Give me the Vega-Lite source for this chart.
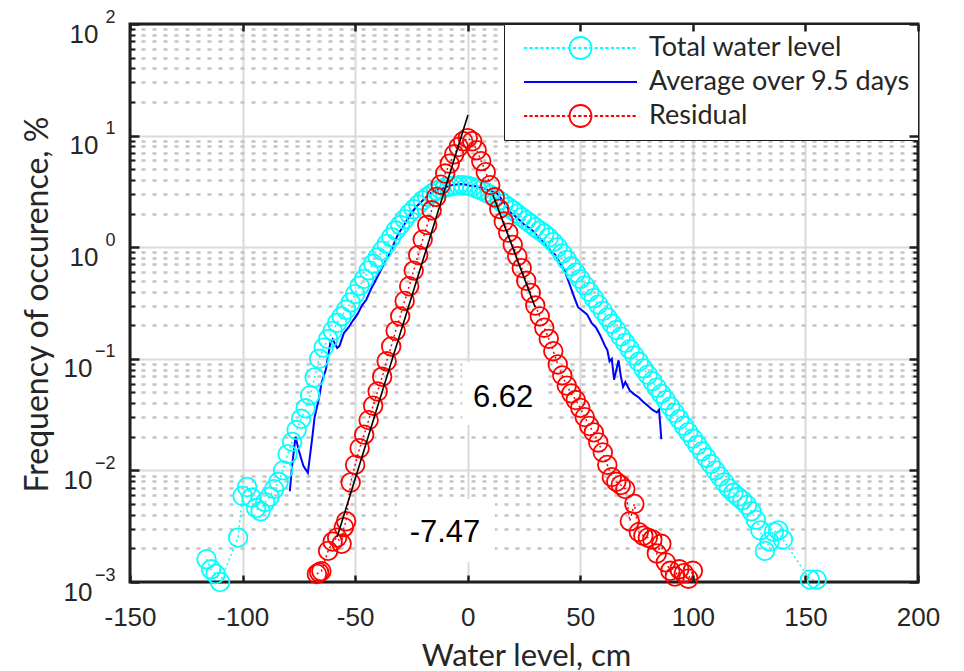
{
  "$schema": "https://vega.github.io/schema/vega-lite/v6.json",
  "width": 788,
  "height": 558,
  "autosize": {"type": "none"},
  "padding": {"left": 130, "top": 24, "right": 46, "bottom": 89},
  "background": "white",
  "config": {
    "view": {"stroke": null, "fill": "white"},
    "axis": {"domain": false, "labelColor": "#262626", "titleColor": "#262626", "tickColor": "#1e1e1e", "labelFlush": false, "labelOverlap": false, "labelBound": false}
  },
  "datasets": {
    "curves": [
      {"s":"Total water level","x":-116,"y":0.0016},{"s":"Total water level","x":-114,"y":0.0013},{"s":"Total water level","x":-112,"y":0.00118},{"s":"Total water level","x":-110,"y":0.001},
      {"s":"Total water level","x":-102,"y":0.0025},{"s":"Total water level","x":-100,"y":0.0059},{"s":"Total water level","x":-98,"y":0.0071},{"s":"Total water level","x":-96,"y":0.0057},
      {"s":"Total water level","x":-94,"y":0.0046},{"s":"Total water level","x":-92,"y":0.0043},{"s":"Total water level","x":-90,"y":0.0052},{"s":"Total water level","x":-88,"y":0.0058},
      {"s":"Total water level","x":-86,"y":0.0068},{"s":"Total water level","x":-84,"y":0.0079},{"s":"Total water level","x":-82,"y":0.01},{"s":"Total water level","x":-80,"y":0.014},
      {"s":"Total water level","x":-78,"y":0.018},{"s":"Total water level","x":-76,"y":0.023},{"s":"Total water level","x":-74,"y":0.029},{"s":"Total water level","x":-72,"y":0.036},
      {"s":"Total water level","x":-70,"y":0.047},{"s":"Total water level","x":-68,"y":0.068},{"s":"Total water level","x":-66,"y":0.1},{"s":"Total water level","x":-64,"y":0.126},
      {"s":"Total water level","x":-62,"y":0.15},{"s":"Total water level","x":-60,"y":0.178},{"s":"Total water level","x":-58,"y":0.21},{"s":"Total water level","x":-56,"y":0.24},
      {"s":"Total water level","x":-54,"y":0.275},{"s":"Total water level","x":-52,"y":0.32},{"s":"Total water level","x":-50,"y":0.38},{"s":"Total water level","x":-48,"y":0.45},
      {"s":"Total water level","x":-46,"y":0.52},{"s":"Total water level","x":-44,"y":0.62},{"s":"Total water level","x":-42,"y":0.71},{"s":"Total water level","x":-40,"y":0.81},
      {"s":"Total water level","x":-38,"y":0.93},{"s":"Total water level","x":-36,"y":1.07},{"s":"Total water level","x":-34,"y":1.23},{"s":"Total water level","x":-32,"y":1.41},
      {"s":"Total water level","x":-30,"y":1.58},{"s":"Total water level","x":-28,"y":1.78},{"s":"Total water level","x":-26,"y":2.0},{"s":"Total water level","x":-24,"y":2.19},
      {"s":"Total water level","x":-22,"y":2.4},{"s":"Total water level","x":-20,"y":2.63},{"s":"Total water level","x":-18,"y":2.82},{"s":"Total water level","x":-16,"y":3.02},
      {"s":"Total water level","x":-14,"y":3.2},{"s":"Total water level","x":-12,"y":3.31},{"s":"Total water level","x":-10,"y":3.43},{"s":"Total water level","x":-8,"y":3.5},
      {"s":"Total water level","x":-6,"y":3.55},{"s":"Total water level","x":-4,"y":3.59},{"s":"Total water level","x":-2,"y":3.59},{"s":"Total water level","x":0,"y":3.55},
      {"s":"Total water level","x":2,"y":3.47},{"s":"Total water level","x":4,"y":3.35},{"s":"Total water level","x":6,"y":3.24},{"s":"Total water level","x":8,"y":3.09},
      {"s":"Total water level","x":10,"y":2.95},{"s":"Total water level","x":12,"y":2.79},{"s":"Total water level","x":14,"y":2.63},{"s":"Total water level","x":16,"y":2.45},
      {"s":"Total water level","x":18,"y":2.29},{"s":"Total water level","x":20,"y":2.14},{"s":"Total water level","x":22,"y":2.0},{"s":"Total water level","x":24,"y":1.86},
      {"s":"Total water level","x":26,"y":1.74},{"s":"Total water level","x":28,"y":1.62},{"s":"Total water level","x":30,"y":1.51},{"s":"Total water level","x":32,"y":1.41},
      {"s":"Total water level","x":34,"y":1.32},{"s":"Total water level","x":36,"y":1.22},{"s":"Total water level","x":38,"y":1.11},{"s":"Total water level","x":40,"y":1.0},
      {"s":"Total water level","x":42,"y":0.877},{"s":"Total water level","x":44,"y":0.769},{"s":"Total water level","x":46,"y":0.674},{"s":"Total water level","x":48,"y":0.59},
      {"s":"Total water level","x":50,"y":0.518},{"s":"Total water level","x":52,"y":0.454},{"s":"Total water level","x":54,"y":0.398},{"s":"Total water level","x":56,"y":0.349},
      {"s":"Total water level","x":58,"y":0.306},{"s":"Total water level","x":60,"y":0.268},{"s":"Total water level","x":62,"y":0.235},{"s":"Total water level","x":64,"y":0.206},
      {"s":"Total water level","x":66,"y":0.181},{"s":"Total water level","x":68,"y":0.158},{"s":"Total water level","x":70,"y":0.139},{"s":"Total water level","x":72,"y":0.122},
      {"s":"Total water level","x":74,"y":0.107},{"s":"Total water level","x":76,"y":0.094},{"s":"Total water level","x":78,"y":0.082},{"s":"Total water level","x":80,"y":0.072},
      {"s":"Total water level","x":82,"y":0.063},{"s":"Total water level","x":84,"y":0.055},{"s":"Total water level","x":86,"y":0.0485},{"s":"Total water level","x":88,"y":0.0425},
      {"s":"Total water level","x":90,"y":0.0373},{"s":"Total water level","x":92,"y":0.0327},{"s":"Total water level","x":94,"y":0.0287},{"s":"Total water level","x":96,"y":0.0251},
      {"s":"Total water level","x":98,"y":0.022},{"s":"Total water level","x":100,"y":0.0193},{"s":"Total water level","x":102,"y":0.0169},{"s":"Total water level","x":104,"y":0.0148},
      {"s":"Total water level","x":106,"y":0.013},{"s":"Total water level","x":108,"y":0.0114},{"s":"Total water level","x":110,"y":0.01},{"s":"Total water level","x":112,"y":0.0088},
      {"s":"Total water level","x":114,"y":0.0078},{"s":"Total water level","x":116,"y":0.0069},{"s":"Total water level","x":118,"y":0.0063},{"s":"Total water level","x":120,"y":0.0058},
      {"s":"Total water level","x":122,"y":0.0054},{"s":"Total water level","x":124,"y":0.0049},{"s":"Total water level","x":126,"y":0.0043},{"s":"Total water level","x":128,"y":0.0036},
      {"s":"Total water level","x":130,"y":0.0029},{"s":"Total water level","x":132,"y":0.0019},{"s":"Total water level","x":134,"y":0.0023},{"s":"Total water level","x":136,"y":0.0028},
      {"s":"Total water level","x":138,"y":0.0029},{"s":"Total water level","x":140,"y":0.0024},{"s":"Total water level","x":152,"y":0.00105},{"s":"Total water level","x":155,"y":0.00105},

      {"s":"Residual","x":-67,"y":0.00118},{"s":"Residual","x":-66,"y":0.00122},{"s":"Residual","x":-65,"y":0.00125},{"s":"Residual","x":-62,"y":0.0019},
      {"s":"Residual","x":-60,"y":0.0023},{"s":"Residual","x":-58,"y":0.0025},{"s":"Residual","x":-56,"y":0.0022},{"s":"Residual","x":-55,"y":0.0031},
      {"s":"Residual","x":-54,"y":0.0035},{"s":"Residual","x":-52,"y":0.0078},{"s":"Residual","x":-50,"y":0.0112},{"s":"Residual","x":-48,"y":0.0158},
      {"s":"Residual","x":-46,"y":0.0209},{"s":"Residual","x":-44,"y":0.0282},{"s":"Residual","x":-42,"y":0.038},{"s":"Residual","x":-40,"y":0.051},
      {"s":"Residual","x":-38,"y":0.069},{"s":"Residual","x":-36,"y":0.095},{"s":"Residual","x":-34,"y":0.129},{"s":"Residual","x":-32,"y":0.178},
      {"s":"Residual","x":-30,"y":0.24},{"s":"Residual","x":-28,"y":0.33},{"s":"Residual","x":-26,"y":0.447},{"s":"Residual","x":-24,"y":0.617},
      {"s":"Residual","x":-22,"y":0.85},{"s":"Residual","x":-20,"y":1.17},{"s":"Residual","x":-18,"y":1.58},{"s":"Residual","x":-16,"y":2.14},
      {"s":"Residual","x":-14,"y":2.82},{"s":"Residual","x":-12,"y":3.63},{"s":"Residual","x":-10,"y":4.57},{"s":"Residual","x":-8,"y":5.6},
      {"s":"Residual","x":-6,"y":6.8},{"s":"Residual","x":-4,"y":7.9},{"s":"Residual","x":-2,"y":8.9},{"s":"Residual","x":0,"y":9.5},
      {"s":"Residual","x":2,"y":8.9},{"s":"Residual","x":4,"y":7.4},{"s":"Residual","x":6,"y":5.9},{"s":"Residual","x":8,"y":4.7},
      {"s":"Residual","x":10,"y":3.6},{"s":"Residual","x":12,"y":2.8},{"s":"Residual","x":14,"y":2.2},{"s":"Residual","x":16,"y":1.7},
      {"s":"Residual","x":18,"y":1.35},{"s":"Residual","x":20,"y":1.05},{"s":"Residual","x":22,"y":0.83},{"s":"Residual","x":24,"y":0.65},
      {"s":"Residual","x":26,"y":0.5},{"s":"Residual","x":28,"y":0.39},{"s":"Residual","x":30,"y":0.3},{"s":"Residual","x":32,"y":0.24},
      {"s":"Residual","x":34,"y":0.19},{"s":"Residual","x":36,"y":0.151},{"s":"Residual","x":38,"y":0.117},{"s":"Residual","x":40,"y":0.089},
      {"s":"Residual","x":42,"y":0.071},{"s":"Residual","x":44,"y":0.0575},{"s":"Residual","x":46,"y":0.049},{"s":"Residual","x":48,"y":0.0427},
      {"s":"Residual","x":50,"y":0.0363},{"s":"Residual","x":52,"y":0.03},{"s":"Residual","x":54,"y":0.025},{"s":"Residual","x":56,"y":0.0219},
      {"s":"Residual","x":58,"y":0.0178},{"s":"Residual","x":60,"y":0.0145},{"s":"Residual","x":62,"y":0.0112},{"s":"Residual","x":64,"y":0.0087},
      {"s":"Residual","x":66,"y":0.0079},{"s":"Residual","x":68,"y":0.0074},{"s":"Residual","x":70,"y":0.0068},{"s":"Residual","x":72,"y":0.0035},
      {"s":"Residual","x":74,"y":0.005},{"s":"Residual","x":76,"y":0.0028},{"s":"Residual","x":78,"y":0.0026},{"s":"Residual","x":80,"y":0.0025},
      {"s":"Residual","x":82,"y":0.0024},{"s":"Residual","x":84,"y":0.0018},{"s":"Residual","x":86,"y":0.0022},{"s":"Residual","x":88,"y":0.0015},
      {"s":"Residual","x":90,"y":0.00126},{"s":"Residual","x":92,"y":0.00112},{"s":"Residual","x":94,"y":0.0013},{"s":"Residual","x":96,"y":0.0012},
      {"s":"Residual","x":98,"y":0.00107},{"s":"Residual","x":100,"y":0.00126},

      {"s":"Average over 9.5 days","x":-79,"y":0.0065},{"s":"Average over 9.5 days","x":-78,"y":0.011},{"s":"Average over 9.5 days","x":-76.5,"y":0.02},{"s":"Average over 9.5 days","x":-75,"y":0.015},
      {"s":"Average over 9.5 days","x":-73,"y":0.011},{"s":"Average over 9.5 days","x":-71,"y":0.0095},{"s":"Average over 9.5 days","x":-69,"y":0.02},{"s":"Average over 9.5 days","x":-68,"y":0.03},
      {"s":"Average over 9.5 days","x":-66,"y":0.045},{"s":"Average over 9.5 days","x":-65,"y":0.06},{"s":"Average over 9.5 days","x":-63,"y":0.08},{"s":"Average over 9.5 days","x":-61,"y":0.14},
      {"s":"Average over 9.5 days","x":-60,"y":0.15},{"s":"Average over 9.5 days","x":-58,"y":0.125},{"s":"Average over 9.5 days","x":-57,"y":0.13},{"s":"Average over 9.5 days","x":-55,"y":0.17},
      {"s":"Average over 9.5 days","x":-53,"y":0.19},{"s":"Average over 9.5 days","x":-51,"y":0.22},{"s":"Average over 9.5 days","x":-49,"y":0.25},{"s":"Average over 9.5 days","x":-47,"y":0.3},
      {"s":"Average over 9.5 days","x":-45,"y":0.34},{"s":"Average over 9.5 days","x":-43,"y":0.42},{"s":"Average over 9.5 days","x":-41,"y":0.5},{"s":"Average over 9.5 days","x":-39,"y":0.6},
      {"s":"Average over 9.5 days","x":-37,"y":0.72},{"s":"Average over 9.5 days","x":-35,"y":0.85},{"s":"Average over 9.5 days","x":-33,"y":1.05},{"s":"Average over 9.5 days","x":-31,"y":1.3},
      {"s":"Average over 9.5 days","x":-29,"y":1.5},{"s":"Average over 9.5 days","x":-27,"y":1.75},{"s":"Average over 9.5 days","x":-25,"y":2.0},{"s":"Average over 9.5 days","x":-23,"y":2.3},
      {"s":"Average over 9.5 days","x":-21,"y":2.5},{"s":"Average over 9.5 days","x":-19,"y":2.75},{"s":"Average over 9.5 days","x":-17,"y":3.0},{"s":"Average over 9.5 days","x":-15,"y":3.2},
      {"s":"Average over 9.5 days","x":-13,"y":3.3},{"s":"Average over 9.5 days","x":-11,"y":3.35},{"s":"Average over 9.5 days","x":-9,"y":3.5},{"s":"Average over 9.5 days","x":-7,"y":3.6},
      {"s":"Average over 9.5 days","x":-5,"y":3.65},{"s":"Average over 9.5 days","x":-3,"y":3.68},{"s":"Average over 9.5 days","x":-1,"y":3.65},{"s":"Average over 9.5 days","x":1,"y":3.55},
      {"s":"Average over 9.5 days","x":3,"y":3.55},{"s":"Average over 9.5 days","x":5,"y":3.45},{"s":"Average over 9.5 days","x":7,"y":3.4},{"s":"Average over 9.5 days","x":9,"y":3.25},
      {"s":"Average over 9.5 days","x":11,"y":3.15},{"s":"Average over 9.5 days","x":13,"y":3.05},{"s":"Average over 9.5 days","x":15,"y":2.7},{"s":"Average over 9.5 days","x":17,"y":2.35},
      {"s":"Average over 9.5 days","x":19,"y":2.05},{"s":"Average over 9.5 days","x":21,"y":1.9},{"s":"Average over 9.5 days","x":23,"y":1.75},{"s":"Average over 9.5 days","x":25,"y":1.6},
      {"s":"Average over 9.5 days","x":27,"y":1.5},{"s":"Average over 9.5 days","x":29,"y":1.4},{"s":"Average over 9.5 days","x":31,"y":1.25},{"s":"Average over 9.5 days","x":33,"y":1.15},
      {"s":"Average over 9.5 days","x":35,"y":1.02},{"s":"Average over 9.5 days","x":37,"y":0.92},{"s":"Average over 9.5 days","x":39,"y":0.85},{"s":"Average over 9.5 days","x":41,"y":0.72},
      {"s":"Average over 9.5 days","x":43,"y":0.62},{"s":"Average over 9.5 days","x":45,"y":0.48},{"s":"Average over 9.5 days","x":47,"y":0.37},{"s":"Average over 9.5 days","x":49,"y":0.29},
      {"s":"Average over 9.5 days","x":51,"y":0.27},{"s":"Average over 9.5 days","x":53,"y":0.25},{"s":"Average over 9.5 days","x":55,"y":0.21},{"s":"Average over 9.5 days","x":57,"y":0.19},
      {"s":"Average over 9.5 days","x":59,"y":0.16},{"s":"Average over 9.5 days","x":61,"y":0.13},{"s":"Average over 9.5 days","x":62,"y":0.12},{"s":"Average over 9.5 days","x":63,"y":0.095},
      {"s":"Average over 9.5 days","x":64,"y":0.1},{"s":"Average over 9.5 days","x":65,"y":0.065},{"s":"Average over 9.5 days","x":67,"y":0.097},{"s":"Average over 9.5 days","x":68,"y":0.07},
      {"s":"Average over 9.5 days","x":69,"y":0.056},{"s":"Average over 9.5 days","x":70,"y":0.062},{"s":"Average over 9.5 days","x":72,"y":0.052},{"s":"Average over 9.5 days","x":74,"y":0.048},
      {"s":"Average over 9.5 days","x":76,"y":0.045},{"s":"Average over 9.5 days","x":78,"y":0.041},{"s":"Average over 9.5 days","x":80,"y":0.038},{"s":"Average over 9.5 days","x":82,"y":0.035},
      {"s":"Average over 9.5 days","x":84,"y":0.033},{"s":"Average over 9.5 days","x":85,"y":0.035},{"s":"Average over 9.5 days","x":86,"y":0.019}
    ],
    "fits": [
      {"g":"L","x":-58,"y":0.00253},{"g":"L","x":0.1,"y":15.3},
      {"g":"R","x":11.2,"y":2.94},{"g":"R","x":29.9,"y":0.291}
    ],
    "labels": [
      {"t":"6.62","x":15.7,"y":0.0446},
      {"t":"-7.47","x":-10.1,"y":0.00275}
    ],
    "boxes": [
      {"x1":-2.5,"x2":34.3,"y1":0.0255,"y2":0.0935},
      {"x1":-31.4,"x2":12.1,"y1":0.00151,"y2":0.00554}
    ]
  },
  "resolve": {"axis": {"x": "independent", "y": "independent"}},
  "layer": [
    {
      "data": {"name": "boxes"},
      "mark": {"type": "rect", "fill": "white", "strokeWidth": 0},
      "encoding": {
        "x": {"field": "x1", "type": "quantitative", "scale": {"domain": [-150, 200], "nice": false, "zero": false},
          "axis": {"orient": "bottom", "values": [-150,-100,-50,0,50,100,150,200], "grid": true, "gridColor": "#dadada", "gridWidth": 2,
            "ticks": false, "tickSize": 0, "labelExpr": "datum.value < 0 ? '-' + abs(datum.value) : '' + datum.value",
            "labelFont": "Liberation Sans", "labelFontSize": 26, "labelBaseline": "top", "labelPadding": 22,
            "title": "Water level, cm", "titleFont": "Lato", "titleFontSize": 31, "titleFontWeight": "normal", "titleX": 396, "titleY": 83, "titleBaseline": "alphabetic", "titleAlign": "center"}},
        "x2": {"field": "x2"},
        "y": {"field": "y1", "type": "quantitative", "scale": {"type": "log", "domain": [0.001, 100], "nice": false},
          "axis": {"orient": "left", "values": [0.001,0.01,0.1,1,10,100], "grid": true, "gridColor": "#dadada", "gridWidth": 2,
            "ticks": false, "tickSize": 0, "labelExpr": "'10'", "labelFont": "Liberation Sans", "labelFontSize": 26, "labelBaseline": "middle", "labelAlign": "right",
            "labelPadding": {"condition": {"test": "datum.value < 1", "value": 38}, "value": 32}, "labelOffset": 10,
            "title": "Frequency of occurence, %", "titleFont": "Lato", "titleFontSize": 32, "titleFontWeight": "normal", "titleX": -93, "titleY": 280, "titleAngle": -90, "titleBaseline": "middle", "titleAlign": "center"}},
        "y2": {"field": "y2"}
      }
    },
    {
      "data": {"name": "curves"},
      "transform": [{"filter": "datum.s === 'Total water level'"}],
      "mark": {"type": "line", "color": "#00ffff", "strokeWidth": 1.5, "strokeDash": [2, 3]},
      "encoding": {
        "x": {"field": "x", "type": "quantitative", "scale": {"domain": [-150, 200], "nice": false, "zero": false},
          "axis": {"orient": "top", "values": [-150,-100,-50,0,50,100,150,200], "grid": false, "labels": false, "zindex": 1, "ticks": true, "tickSize": -7, "tickWidth": 2.5, "title": null}},
        "y": {"field": "y", "type": "quantitative", "scale": {"type": "log", "domain": [0.001, 100], "nice": false},
          "axis": {"orient": "left", "values": [0.001,0.01,0.1,1,10,100], "grid": false, "ticks": false, "tickSize": 0,
            "labelExpr": "datum.value >= 100 ? '2' : datum.value >= 10 ? '1' : datum.value >= 1 ? '0' : datum.value >= 0.1 ? '\u22121' : datum.value >= 0.01 ? '\u22122' : '\u22123'",
            "labelFont": "Liberation Sans", "labelFontSize": 18, "labelBaseline": "middle", "labelAlign": "right", "labelPadding": 15, "labelOffset": -7, "title": null}}
      }
    },
    {
      "data": {"name": "curves"},
      "transform": [{"filter": "datum.s === 'Residual'"}],
      "mark": {"type": "line", "color": "#ff0000", "strokeWidth": 1.5, "strokeDash": [2, 3]},
      "encoding": {
        "x": {"field": "x", "type": "quantitative", "scale": {"domain": [-150, 200], "nice": false, "zero": false}, "axis": null},
        "y": {"field": "y", "type": "quantitative", "scale": {"type": "log", "domain": [0.001, 100], "nice": false},
          "axis": {"orient": "left", "values": [0.002,0.003,0.004,0.005,0.006,0.007,0.008,0.009,0.02,0.03,0.04,0.05,0.06,0.07,0.08,0.09,0.2,0.3,0.4,0.5,0.6,0.7,0.8,0.9,2,3,4,5,6,7,8,9,20,30,40,50,60,70,80,90],
            "grid": true, "gridColor": "#c4c4c4", "gridWidth": 2.5, "gridDash": [4, 7], "ticks": true, "tickSize": -5, "tickWidth": 2, "labels": false, "title": null}}
      }
    },
    {
      "data": {"name": "curves"},
      "transform": [{"filter": "datum.s === 'Average over 9.5 days'"}],
      "mark": {"type": "line", "color": "#0000ff", "strokeWidth": 2},
      "encoding": {
        "x": {"field": "x", "type": "quantitative", "scale": {"domain": [-150, 200], "nice": false, "zero": false},
          "axis": {"orient": "bottom", "values": [-150,-100,-50,0,50,100,150,200], "grid": false, "labels": false, "zindex": 1, "ticks": true, "tickSize": -7, "tickWidth": 2.5, "title": null}},
        "y": {"field": "y", "type": "quantitative", "scale": {"type": "log", "domain": [0.001, 100], "nice": false},
          "axis": {"orient": "left", "values": [0.001,0.01,0.1,1,10,100], "grid": false, "labels": false, "zindex": 1, "ticks": true, "tickSize": -9, "tickWidth": 2.5, "title": null}}
      }
    },
    {
      "data": {"values": [{}]},
      "mark": {"type": "rect", "fill": null, "fillOpacity": 0, "stroke": "#1e1e1e", "strokeWidth": 3},
      "encoding": {
        "x": {"datum": -150, "type": "quantitative", "scale": {"domain": [-150, 200], "nice": false, "zero": false}, "axis": null},
        "x2": {"datum": 200},
        "y": {"datum": 0.001, "type": "quantitative", "scale": {"type": "log", "domain": [0.001, 100], "nice": false}, "axis": null},
        "y2": {"datum": 100}
      }
    },
    {
      "data": {"name": "curves"},
      "transform": [{"filter": "datum.s === 'Total water level'"}],
      "mark": {"type": "point", "shape": "circle", "filled": false, "color": "#00ffff", "size": 346, "strokeWidth": 1.8, "opacity": 1},
      "encoding": {
        "x": {"field": "x", "type": "quantitative", "scale": {"domain": [-150, 200], "nice": false, "zero": false}, "axis": null},
        "y": {"field": "y", "type": "quantitative", "scale": {"type": "log", "domain": [0.001, 100], "nice": false},
          "axis": {"orient": "right", "values": [0.001,0.01,0.1,1,10,100], "grid": false, "labels": false, "zindex": 1, "ticks": true, "tickSize": -9, "tickWidth": 2.5, "title": null}}
      }
    },
    {
      "data": {"name": "curves"},
      "transform": [{"filter": "datum.s === 'Residual'"}],
      "mark": {"type": "point", "shape": "circle", "filled": false, "color": "#ff0000", "size": 346, "strokeWidth": 1.8, "opacity": 1},
      "encoding": {
        "x": {"field": "x", "type": "quantitative", "scale": {"domain": [-150, 200], "nice": false, "zero": false}, "axis": null},
        "y": {"field": "y", "type": "quantitative", "scale": {"type": "log", "domain": [0.001, 100], "nice": false},
          "axis": {"orient": "right", "values": [0.002,0.003,0.004,0.005,0.006,0.007,0.008,0.009,0.02,0.03,0.04,0.05,0.06,0.07,0.08,0.09,0.2,0.3,0.4,0.5,0.6,0.7,0.8,0.9,2,3,4,5,6,7,8,9,20,30,40,50,60,70,80,90],
            "grid": false, "labels": false, "ticks": true, "tickSize": -5, "tickWidth": 2, "title": null}}
      }
    },
    {
      "data": {"name": "fits"},
      "mark": {"type": "line", "color": "black", "strokeWidth": 1.6},
      "encoding": {
        "x": {"field": "x", "type": "quantitative", "scale": {"domain": [-150, 200], "nice": false, "zero": false}, "axis": null},
        "y": {"field": "y", "type": "quantitative", "scale": {"type": "log", "domain": [0.001, 100], "nice": false}, "axis": null},
        "detail": {"field": "g"}
      }
    },
    {
      "data": {"name": "labels"},
      "mark": {"type": "text", "font": "Liberation Sans", "fontSize": 31, "color": "black", "align": "center", "baseline": "middle"},
      "encoding": {
        "x": {"field": "x", "type": "quantitative", "scale": {"domain": [-150, 200], "nice": false, "zero": false}, "axis": null},
        "y": {"field": "y", "type": "quantitative", "scale": {"type": "log", "domain": [0.001, 100], "nice": false}, "axis": null},
        "text": {"field": "t"}
      }
    },
    {
      "data": {"name": "curves"},
      "transform": [{"filter": "datum.x > 1000"}],
      "mark": {"type": "point", "filled": false, "strokeWidth": 1.8, "opacity": 1},
      "encoding": {
        "color": {"field": "s", "type": "nominal",
          "scale": {"domain": ["Total water level", "Average over 9.5 days", "Residual"], "range": ["#00ffff", "#0000ff", "#ff0000"]},
          "legend": {"orient": "top-right", "offset": 0, "title": null, "padding": 8, "symbolSize": 12769, "symbolStrokeWidth": 1.8,
            "labelFont": "Lato", "labelFontSize": 27, "labelColor": "#262626", "strokeColor": "#1e1e1e", "fillColor": "white",
            "clipHeight": 32, "rowPadding": 2, "symbolOffset": 11, "labelOffset": 11, "labelLimit": 400,
            "encode": {"legend": {"update": {"strokeWidth": {"value": 3}}}}}},
        "shape": {"field": "s", "type": "nominal",
          "scale": {"domain": ["Total water level", "Average over 9.5 days", "Residual"],
            "range": [
              "M-1,0h0.058M-0.904,0h0.058M-0.808,0h0.058M-0.712,0h0.058M-0.616,0h0.058M-0.52,0h0.058M-0.424,0h0.058M-0.328,0h0.058M-0.232,0h0.058M-0.136,0h0.058M-0.04,0h0.058M0.056,0h0.058M0.152,0h0.058M0.248,0h0.058M0.344,0h0.058M0.44,0h0.058M0.536,0h0.058M0.632,0h0.058M0.728,0h0.058M0.824,0h0.058M0.92,0h0.058M0.195,0A0.195,0.195,0,1,1,-0.195,0A0.195,0.195,0,1,1,0.195,0",
              "M-1,0H1",
              "M-1,0h0.058M-0.904,0h0.058M-0.808,0h0.058M-0.712,0h0.058M-0.616,0h0.058M-0.52,0h0.058M-0.424,0h0.058M-0.328,0h0.058M-0.232,0h0.058M-0.136,0h0.058M-0.04,0h0.058M0.056,0h0.058M0.152,0h0.058M0.248,0h0.058M0.344,0h0.058M0.44,0h0.058M0.536,0h0.058M0.632,0h0.058M0.728,0h0.058M0.824,0h0.058M0.92,0h0.058M0.195,0A0.195,0.195,0,1,1,-0.195,0A0.195,0.195,0,1,1,0.195,0"
            ]},
          "legend": {"orient": "top-right", "offset": 0, "title": null, "padding": 8, "symbolSize": 12769, "symbolStrokeWidth": 1.8,
            "labelFont": "Lato", "labelFontSize": 27, "labelColor": "#262626", "strokeColor": "#1e1e1e", "fillColor": "white",
            "clipHeight": 32, "rowPadding": 2, "symbolOffset": 11, "labelOffset": 11, "labelLimit": 400,
            "encode": {"legend": {"update": {"strokeWidth": {"value": 3}}}}}}
      }
    }
  ]
}
